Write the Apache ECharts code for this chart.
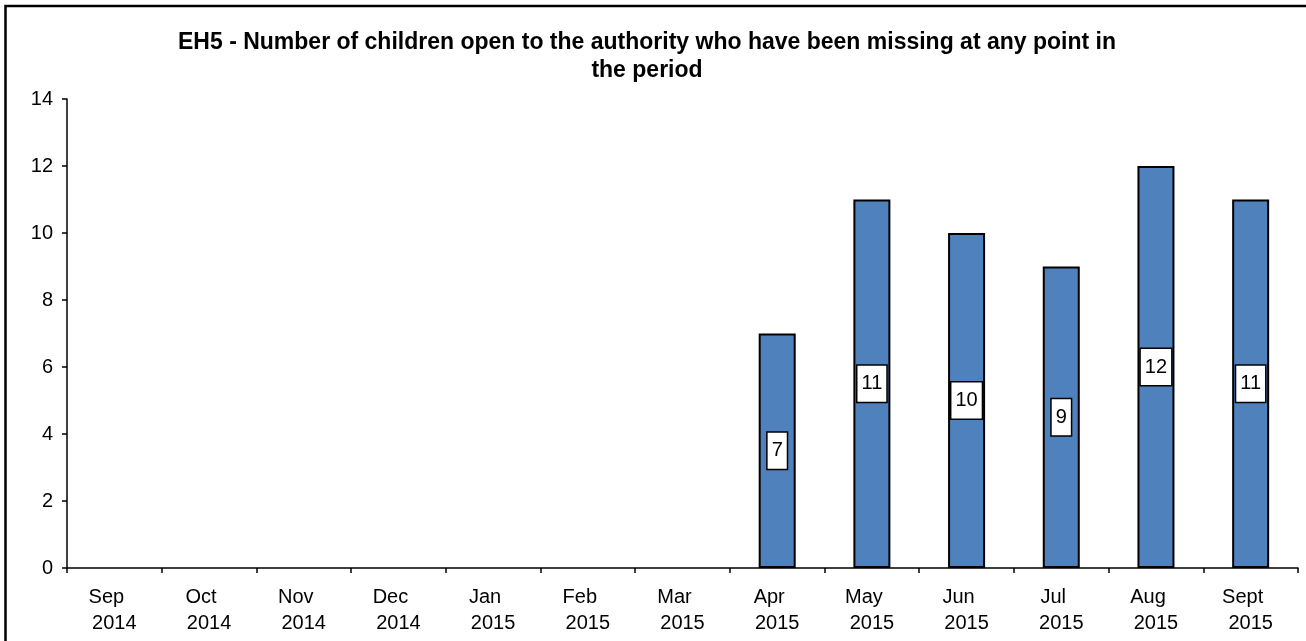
<!DOCTYPE html>
<html>
<head>
<meta charset="utf-8">
<script src="https://cdn.jsdelivr.net/npm/echarts@6/dist/echarts.min.js"></script>
<style>
html,body{margin:0;padding:0;background:#fff;}
#chart{width:1306px;height:641px;}
</style>
</head>
<body>
<div id="chart"></div>
<script>
const titleText = 'EH5 - Number of children open to the authority who have been missing at any point in\nthe period';
const months = ['Sep', 'Oct', 'Nov', 'Dec', 'Jan', 'Feb', 'Mar', 'Apr', 'May', 'Jun', 'Jul', 'Aug', 'Sept'];
const years = ['2014', '2014', '2014', '2014', '2015', '2015', '2015', '2015', '2015', '2015', '2015', '2015', '2015'];
const values = [null, null, null, null, null, null, null, 7, 11, 10, 9, 12, 11];
const yTicks = [0, 2, 4, 6, 8, 10, 12, 14];

const categories = months.map((m, i) => m + '\n' + years[i]);
const FONT = '"Liberation Sans", Arial, sans-serif';

const chart = echarts.init(document.getElementById('chart'), null, {renderer: 'canvas'});
chart.setOption({
  backgroundColor: '#fff',
  animation: false,
  graphic: [{
    type: 'rect',
    shape: {x: 5.5, y: 6, width: 1320, height: 700},
    style: {fill: 'none', stroke: '#000', lineWidth: 2.5}
  }],
  title: {
    text: titleText,
    left: 642,
    top: 24,
    textAlign: 'center',
    textStyle: {fontFamily: FONT, fontWeight: 'bold', fontSize: 23, lineHeight: 28, color: '#000'}
  },
  grid: {left: 67, right: 8, top: 99, bottom: 73, containLabel: false},
  xAxis: {
    type: 'category',
    data: categories,
    boundaryGap: true,
    axisLine: {lineStyle: {color: '#000', width: 1.5}},
    axisTick: {show: true, length: 5, lineStyle: {color: '#000', width: 1.5}},
    axisLabel: {
      interval: 0,
      margin: 16,
      formatter: function (v) {
        const p = v.split('\n');
        return '{m|' + p[0] + '}\n{y|' + p[1] + '}';
      },
      rich: {
        m: {fontFamily: FONT, fontSize: 20, color: '#000', lineHeight: 26, padding: [0, 16, 0, 0]},
        y: {fontFamily: FONT, fontSize: 20, color: '#000', lineHeight: 26}
      }
    },
    splitLine: {show: false}
  },
  yAxis: {
    type: 'value',
    min: yTicks[0],
    max: yTicks[yTicks.length - 1],
    interval: 2,
    axisLine: {show: true, lineStyle: {color: '#000', width: 1.5}},
    axisTick: {show: true, length: 5, lineStyle: {color: '#000', width: 1.5}},
    axisLabel: {fontFamily: FONT, fontSize: 20, color: '#000', margin: 14},
    splitLine: {show: false}
  },
  series: [{
    type: 'bar',
    data: values,
    barWidth: 37,
    itemStyle: {color: '#4F81BD', borderColor: '#000', borderWidth: 2},
    label: {
      show: true,
      position: 'inside',
      fontFamily: FONT,
      fontSize: 20,
      color: '#000',
      backgroundColor: '#fff',
      borderColor: '#000',
      borderWidth: 1.5,
      padding: [6, 4, 6, 4],
      lineHeight: 24
    }
  }]
});
</script>
</body>
</html>
